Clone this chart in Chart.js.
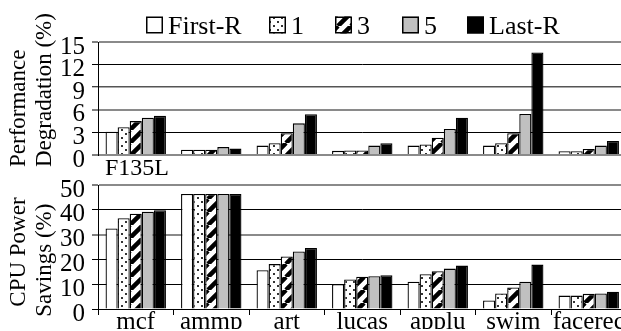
<!DOCTYPE html>
<html>
<head>
<meta charset="utf-8">
<script src="https://cdn.jsdelivr.net/npm/chart.js@4.4.1/dist/chart.umd.min.js"></script>
<style>
  html, body { margin: 0; padding: 0; background: #fff; overflow: hidden; width: 621px; height: 331px; }
  #wrap { position: relative; width: 621px; height: 331px; overflow: hidden; }
  #topChart { position: absolute; left: 0; top: 0; }
  #bottomChart { position: absolute; left: 0; top: 160px; }
</style>
</head>
<body>
<div id="wrap">
  <canvas id="bottomChart" width="630" height="171"></canvas>
  <canvas id="topChart" width="630" height="185"></canvas>
</div>
<script>
// Benchmarks and the five configurations
const categories = ['mcf', 'ammp', 'art', 'lucas', 'applu', 'swim', 'facerec'];
const seriesNames = ['First-R', '1', '3', '5', 'Last-R'];

// Performance degradation (%)
const perfFirstR = [3.1, 0.7, 1.25, 0.55, 1.25, 1.25, 0.5];
const perf1      = [3.7, 0.7, 1.55, 0.6, 1.4, 1.55, 0.5];
const perf3      = [4.5, 0.7, 2.9, 0.6, 2.3, 2.9, 0.8];
const perf5      = [4.95, 1.05, 4.2, 1.25, 3.45, 5.45, 1.25];
const perfLastR  = [5.2, 0.85, 5.4, 1.55, 4.95, 13.6, 1.85];

// CPU power savings (%)
const powFirstR = [32.5, 46.4, 15.6, 10.0, 11.0, 3.4, 5.4];
const pow1      = [36.6, 46.4, 18.1, 11.9, 14.0, 6.3, 5.4];
const pow3      = [38.4, 46.4, 21.2, 13.0, 15.2, 8.7, 6.1];
const pow5      = [39.2, 46.4, 23.2, 13.2, 16.3, 11.0, 6.3];
const powLastR  = [39.8, 46.4, 24.6, 13.6, 17.5, 17.9, 7.0];

// Axis tick values
const perfTicks = [0, 3, 6, 9, 12, 15];
const powTicks  = [0, 10, 20, 30, 40, 50];

const SERIF = "'Liberation Serif', 'Times New Roman', serif";

function dotPattern() {
  const s = 8;
  const c = document.createElement('canvas');
  c.width = s; c.height = s;
  const g = c.getContext('2d');
  g.fillStyle = '#fff'; g.fillRect(0, 0, s, s);
  g.fillStyle = '#333';
  g.fillRect(1, 1, 2, 2);
  g.fillRect(5, 5, 2, 2);
  return g.createPattern(c, 'repeat');
}

function hatchPattern() {
  const s = 13;
  const c = document.createElement('canvas');
  c.width = s; c.height = s;
  const g = c.getContext('2d');
  g.fillStyle = '#fff'; g.fillRect(0, 0, s, s);
  g.strokeStyle = '#000';
  g.lineWidth = 4.5;
  g.beginPath();
  for (const k of [-s, 0, s]) {
    g.moveTo(k, s);
    g.lineTo(k + s, 0);
  }
  g.stroke();
  return g.createPattern(c, 'repeat');
}

const fills = ['#ffffff', dotPattern(), hatchPattern(), '#c0c0c0', '#000000'];

function makeDatasets(series) {
  return series.map((values, i) => ({
    label: seriesNames[i],
    data: values,
    backgroundColor: fills[i],
    borderColor: '#000',
    borderWidth: 1.3,
    categoryPercentage: 0.8,
    barPercentage: 1.0
  }));
}

// Draws legend, rotated axis titles and free labels
const textPlugin = {
  id: 'panelText',
  afterDraw(chart, args, opts) {
    const ctx = chart.ctx;
    ctx.save();
    ctx.fillStyle = '#000';
    ctx.textAlign = 'left';
    ctx.textBaseline = 'alphabetic';
    (opts.texts || []).forEach(t => {
      ctx.save();
      ctx.font = t.font;
      ctx.translate(t.x, t.y);
      if (t.rot) ctx.rotate(t.rot);
      ctx.fillText(t.text, 0, 0);
      ctx.restore();
    });
    const lg = opts.legend;
    if (lg) {
      ctx.font = lg.font;
      chart.data.datasets.forEach((ds, i) => {
        const x = lg.xs[i];
        ctx.fillStyle = ds.backgroundColor;
        ctx.fillRect(x, lg.y, lg.box, lg.box);
        ctx.strokeStyle = '#000';
        ctx.lineWidth = 1.5;
        ctx.strokeRect(x + 0.75, lg.y + 0.75, lg.box - 1.5, lg.box - 1.5);
        ctx.fillStyle = '#000';
        ctx.fillText(ds.label, x + lg.box + lg.gap, lg.baseline);
      });
    }
    ctx.restore();
  }
};

function gridStyler(styles) {
  return {
    color: c => (styles[c.tick && c.tick.value] || ['#000', 1])[0],
    lineWidth: c => (styles[c.tick && c.tick.value] || ['#000', 1])[1]
  };
}

function yAxis(ticks, styles) {
  const gs = gridStyler(styles);
  return {
    type: 'linear',
    min: ticks[0],
    max: ticks[ticks.length - 1],
    afterBuildTicks: s => { s.ticks = ticks.map(v => ({ value: v })); },
    afterFit: s => { s.width = 98; },
    border: { display: true, color: '#000', width: 1 },
    grid: {
      color: gs.color,
      lineWidth: gs.lineWidth,
      drawTicks: true,
      tickLength: 6,
      tickColor: '#000',
      tickWidth: 1
    },
    ticks: {
      font: { family: SERIF, size: 25 },
      color: '#000',
      padding: 7,
      labelOffset: 5,
      autoSkip: false
    }
  };
}

Chart.defaults.font.family = SERIF;

// Upper panel: performance degradation
new Chart(document.getElementById('topChart'), {
  type: 'bar',
  data: {
    labels: categories,
    datasets: makeDatasets([perfFirstR, perf1, perf3, perf5, perfLastR])
  },
  plugins: [textPlugin],
  options: {
    responsive: false,
    animation: false,
    devicePixelRatio: 1,
    layout: { padding: { top: 42, bottom: 30, right: 3.5, left: 0 } },
    plugins: {
      legend: { display: false },
      tooltip: { enabled: false },
      panelText: {
        legend: {
          xs: [146, 269, 335, 402, 467],
          y: 16.5, box: 17, gap: 5, baseline: 33.5,
          font: '26px ' + SERIF
        },
        texts: [
          { text: 'Performance', x: 25, y: 167, rot: -Math.PI / 2, font: '23px ' + SERIF },
          { text: 'Degradation (%)', x: 51, y: 167, rot: -Math.PI / 2, font: '23px ' + SERIF },
          { text: 'F135L', x: 105, y: 175, font: '24px ' + SERIF }
        ]
      }
    },
    scales: {
      x: { type: 'category', display: false, offset: true },
      y: yAxis(perfTicks, {
        15: ['#8a8a8a', 2], 12: ['#000', 1], 9: ['#555', 1.5],
        6: ['#8a8a8a', 2], 3: ['#000', 1], 0: ['#8a8a8a', 2]
      })
    }
  }
});

// Lower panel: CPU power savings
new Chart(document.getElementById('bottomChart'), {
  type: 'bar',
  data: {
    labels: categories,
    datasets: makeDatasets([powFirstR, pow1, pow3, pow5, powLastR])
  },
  plugins: [textPlugin],
  options: {
    responsive: false,
    animation: false,
    devicePixelRatio: 1,
    layout: { padding: { top: 25, bottom: 0, right: 3.5, left: 0 } },
    plugins: {
      legend: { display: false },
      tooltip: { enabled: false },
      panelText: {
        texts: [
          { text: 'CPU Power', x: 25, y: 146.7, rot: -Math.PI / 2, font: '23px ' + SERIF },
          { text: 'Savings (%)', x: 51, y: 156.7, rot: -Math.PI / 2, font: '23px ' + SERIF }
        ]
      }
    },
    scales: {
      x: {
        type: 'category',
        offset: true,
        afterFit: s => { s.height = 20; },
        border: { display: true, color: '#000', width: 1 },
        grid: {
          offset: true,
          drawOnChartArea: false,
          drawTicks: true,
          tickLength: 6,
          color: '#000',
          lineWidth: 1
        },
        ticks: {
          font: { family: SERIF, size: 25 },
          color: '#000',
          padding: -8,
          maxRotation: 0,
          autoSkip: false
        }
      },
      y: yAxis(powTicks, {
        50: ['#8a8a8a', 2], 40: ['#000', 1], 30: ['#8a8a8a', 2],
        20: ['#000', 1], 10: ['#000', 1], 0: ['#000', 1]
      })
    }
  }
});
</script>
</body>
</html>
